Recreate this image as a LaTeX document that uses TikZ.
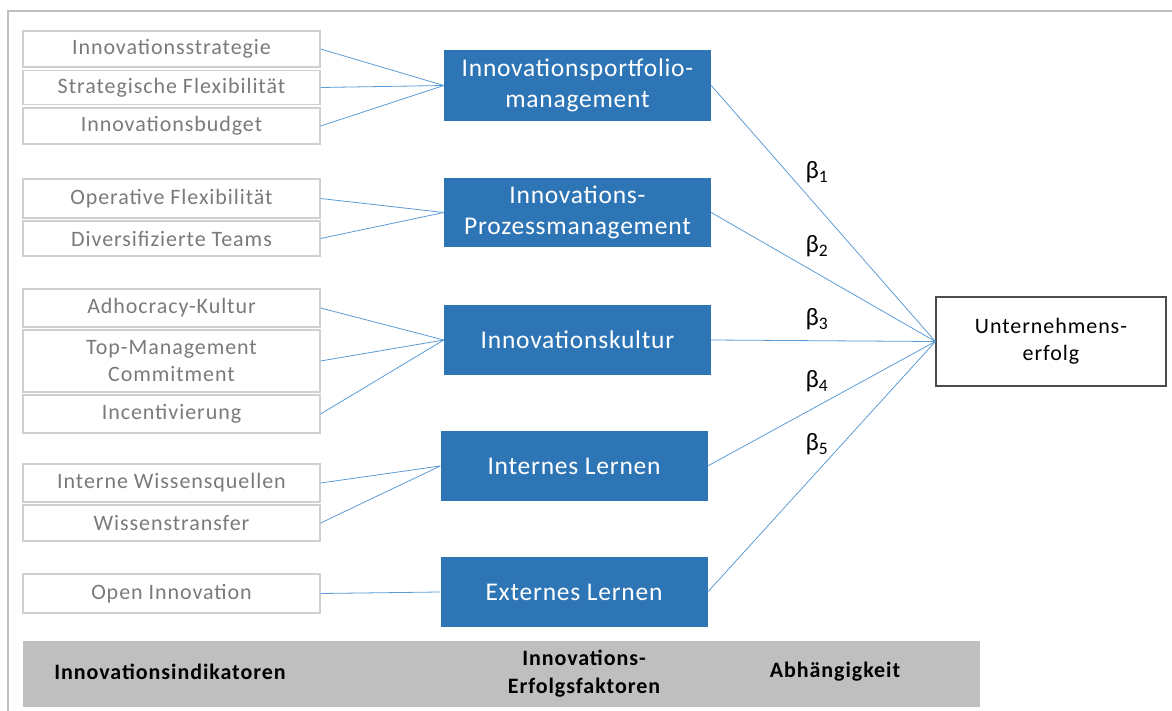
\documentclass[tikz,border=0pt]{standalone}
\usepackage{fontspec}
\setmainfont{Carlito}
\newfontfamily\grauschrift[LetterSpace=4.3]{Carlito}
\newfontfamily\blauschrift[LetterSpace=3]{Carlito}
\usetikzlibrary{positioning}

\definecolor{faktorblau}{HTML}{2E75B6}
\definecolor{linienblau}{HTML}{5B9BD5}
\definecolor{rahmengrau}{HTML}{BFBFBF}
\definecolor{boxgrau}{HTML}{D0D0D0}
\definecolor{textgrau}{HTML}{7A7A7A}

\begin{document}
\begin{tikzpicture}[x=1pt, y=-1pt,
    indikator/.style={draw=boxgrau, line width=1.2pt, text=textgrau, minimum width=297pt, align=center, inner sep=0pt, font=\grauschrift\fontsize{22}{27}\selectfont},
    faktor/.style={fill=faktorblau, text=white, minimum width=267pt, minimum height=70pt, align=center, inner sep=0pt, font=\blauschrift\fontsize{25.5}{31}\selectfont},
    ziel/.style={draw=black!70, line width=1.2pt, minimum width=230pt, minimum height=89pt, align=center, inner sep=0pt, font=\grauschrift\fontsize{22}{27}\selectfont},
    verbindung/.style={linienblau, line width=0.8pt},
    beta/.style={font=\fontsize{25}{28}\selectfont},
    legende/.style={font=\grauschrift\bfseries\fontsize{22}{28}\selectfont, align=center}]
    \useasboundingbox (0,0) rectangle (1172,711);

    % Rahmen
    \draw[rahmengrau, line width=2pt] (8,711) -- (8,11) -- (1172,11);

    % Innovationsindikatoren
    \node[indikator, minimum height=36pt] (strategie) at (171.5,49) {Innovationsstrategie};
    \node[indikator, minimum height=34pt] (stratflex) at (171.5,87.5) {Strategische Flexibilität};
    \node[indikator, minimum height=36pt] (budget) at (171.5,126) {Innovationsbudget};
    \node[indikator, minimum height=39pt] (opflex) at (171.5,198.5) {Operative Flexibilität};
    \node[indikator, minimum height=35pt] (teams) at (171.5,238.5) {Diversifizierte Teams};
    \node[indikator, minimum height=38pt] (adhocracy) at (171.5,308) {Adhocracy-Kultur};
    \node[indikator, minimum height=62pt] (topmgmt) at (171.5,361) {Top-Management\\Commitment};
    \node[indikator, minimum height=38pt] (incentiv) at (171.5,414) {Incentivierung};
    \node[indikator, minimum height=38pt] (wissquellen) at (171.5,483) {Interne Wissensquellen};
    \node[indikator, minimum height=36pt] (wisstransfer) at (171.5,523) {Wissenstransfer};
    \node[indikator, minimum height=39pt] (openinno) at (171.5,593.5) {Open Innovation};

    % Erfolgsfaktoren
    \node[faktor, minimum height=71pt] (portfolio) at (577.5,85.5) {Innovationsportfolio-\\management};
    \node[faktor, minimum height=69pt] (prozess) at (577.5,212.5) {Innovations-\\Prozessmanagement};
    \node[faktor] (kultur) at (577.5,340) {Innovationskultur};
    \node[faktor] (intlernen) at (574,466) {Internes Lernen};
    \node[faktor] (extlernen) at (574,592) {Externes Lernen};

    % Abhaengige Variable
    \node[ziel] (erfolg) at (1051,341.5) {Unternehmens-\\erfolg};

    % Verbindungen links
    \draw[verbindung] (strategie.east) -- (portfolio.west);
    \draw[verbindung] (stratflex.east) -- (portfolio.west);
    \draw[verbindung] (budget.east) -- (portfolio.west);
    \draw[verbindung] (opflex.east) -- (prozess.west);
    \draw[verbindung] (teams.east) -- (prozess.west);
    \draw[verbindung] (adhocracy.east) -- (kultur.west);
    \draw[verbindung] (topmgmt.east) -- (kultur.west);
    \draw[verbindung] (incentiv.east) -- (kultur.west);
    \draw[verbindung] (wissquellen.east) -- (intlernen.west);
    \draw[verbindung] (wisstransfer.east) -- (intlernen.west);
    \draw[verbindung] (openinno.east) -- (extlernen.west);

    % Verbindungen rechts
    \draw[verbindung] (portfolio.east) -- (erfolg.west);
    \draw[verbindung] (prozess.east) -- (erfolg.west);
    \draw[verbindung] (kultur.east) -- (erfolg.west);
    \draw[verbindung] (intlernen.east) -- (erfolg.west);
    \draw[verbindung] (extlernen.east) -- (erfolg.west);

    % Koeffizienten
    \node[beta] (beta1) at (817,172) {β\textsubscript{1}};
    \node[beta] (beta2) at (817,246) {β\textsubscript{2}};
    \node[beta] (beta3) at (817,319) {β\textsubscript{3}};
    \node[beta] (beta4) at (817,381) {β\textsubscript{4}};
    \node[beta] (beta5) at (817,444) {β\textsubscript{5}};

    % Legende
    \fill[rahmengrau] (23,641) rectangle (980,707);
    \node[legende] (lindikatoren) at (170,672) {Innovationsindikatoren};
    \node[legende] (lfaktoren) at (584,674) {Innovations-\\Erfolgsfaktoren};
    \node[legende] (labhaengig) at (835,672) {Abhängigkeit};
\end{tikzpicture}
\end{document}
